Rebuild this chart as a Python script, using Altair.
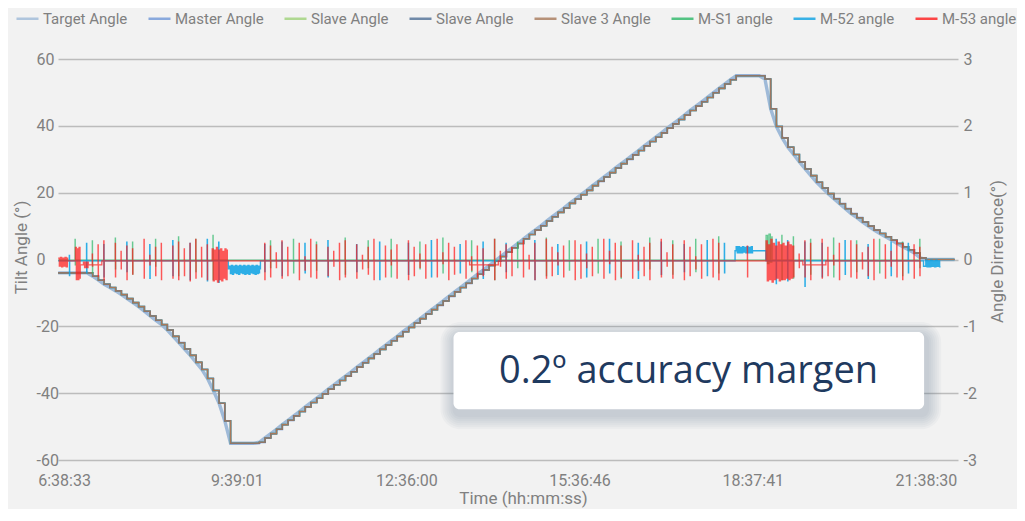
import altair as alt
import pandas as pd

# ---------------- axis values ----------------
TIME_LABELS = ["6:38:33", "9:39:01", "12:36:00", "15:36:46", "18:37:41", "21:38:30"]
X_DOMAIN = [6.537, 22.2]
TILT_TICKS = [-60, -40, -20, 0, 20, 40, 60]
DIFF_TICKS = [-3, -2, -1, 0, 1, 2, 3]

SERIES = ["Target Angle", "Master Angle", "Slave Angle", "Slave Angle ",
          "Slave 3 Angle", "M-S1 angle", "M-52 angle", "M-53 angle"]
COLORS = ["#9fbad8", "#6f98d8", "#9fd27a", "#4f6f96",
          "#a8795a", "#2cb868", "#0aa2e4", "#ff1a1a"]

# ---------------- tilt angle (deg), one reading every 0.1 h ----------------
T0 = 6.54
STEP = 0.1
TILT = [
    -4, -4, -4, -4, -4, -4, -5.0, -6.2, -7.4, -8.4, -9.4, -10.5, -11.7, -12.9, -14.1, -15.5, -16.9, -18.2, -19.5, -21.1,
    -23.0, -24.9, -26.8, -28.7, -30.8, -32.9, -35.6, -39.2, -43.0, -48.3, -55, -55, -55, -55, -55, -54.7, -53.4, -52.1, -50.8, -49.4,
    -48.1, -46.8, -45.5, -44.1, -42.8, -41.5, -40.2, -38.8, -37.5, -36.2, -34.9, -33.6, -32.2, -30.9, -29.6, -28.3, -26.9, -25.6, -24.3, -23.0,
    -21.6, -20.3, -19.0, -17.7, -16.3, -15.0, -13.7, -12.4, -11.0, -9.7, -8.4, -7.1, -5.7, -4.4, -3.1, -1.8, -0.5, 0.9, 2.2, 3.5,
    4.8, 6.2, 7.5, 8.8, 10.1, 11.5, 12.8, 14.1, 15.4, 16.8, 18.1, 19.4, 20.7, 22.1, 23.4, 24.7, 26.0, 27.4, 28.7, 30.0,
    31.3, 32.6, 34.0, 35.3, 36.6, 37.9, 39.3, 40.6, 41.9, 43.2, 44.6, 45.9, 47.2, 48.5, 49.9, 51.2, 52.5, 53.8, 55, 55,
    55, 55, 55, 54, 45.1, 39.8, 36.4, 33.6, 31.4, 29.2, 27.1, 25.1, 23.1, 21.4, 19.7, 18.2, 16.7, 15.2, 13.7, 12.5,
    11.2, 10.0, 8.8, 7.8, 6.8, 5.8, 4.8, 3.8, 2.9, 1.9, 0.5, 0, 0, 0, 0, 0, 0,
]

# ---------------- angle differences (hundredths of a degree) ----------------
# M-53: spike top / bottom at each 0.1 h step
M53_UP = [
    0, 0, 0, 15, 0, 20, 8, 22, 28, 0, 24, 12, 20, 16, 0, 30, 6, 18, 24, 0,
    20, 26, 16, 24, 30, 18, 22, 0, 0, 0, 0, 0, 0, 0, 0, 0, 24, 20, 10, 28,
    18, 0, 24, 4, 30, 22, 0, 18, 12, 24, 28, 0, 22, 6, 18, 30, 0, 20, 14, 22,
    0, 28, 18, 8, 22, 0, 30, 10, 24, 18, 0, 28, 4, 20, 16, 0, 30, 12, 22, 18,
    0, 28, 6, 24, 0, 30, 18, 10, 20, 0, 28, 22, 8, 18, 0, 30, 12, 24, 20, 0,
    28, 6, 18, 24, 0, 30, 10, 22, 0, 28, 18, 4, 22, 0, 30, 24, 0, 0, 0, 0,
    20, 0, 0, 0, 0, 0, 0, 0, 22, 8, 28, 24, 0, 30, 18, 6, 24, 0, 28, 22,
    10, 18, 30, 0, 22, 12, 28, 24, 0, 22, 18, 0, 0, 0, 0, 0, 0,
]
M53_DN = [
    0, 0, 0, -22, 0, -28, -10, -25, -30, 0, -26, -14, -30, -22, 0, -28, -8, -24, -30, 0,
    -28, -30, -24, -32, -28, -26, -30, 0, 0, 0, 0, 0, 0, 0, 0, 0, -30, -26, -12, -28,
    -24, 0, -30, -16, -26, -28, 0, -24, -10, -30, -26, 0, -28, -14, -22, -30, 0, -26, -8, -28,
    0, -30, -24, -12, -28, 0, -26, -6, -30, -22, 0, -28, -16, -26, -24, 0, -30, -10, -28, -24,
    0, -26, -14, -30, 0, -28, -24, -8, -26, 0, -30, -28, -12, -24, 0, -28, -6, -30, -26, 0,
    -28, -16, -24, -30, 0, -26, -10, -28, 0, -30, -24, -14, -28, 0, -26, -30, 0, 0, 0, 0,
    -26, 0, 0, 0, 0, 0, 0, 0, -28, -12, -26, -30, 0, -28, -24, -8, -30, 0, -26, -28,
    -14, -24, -30, 0, -28, -10, -26, -30, 0, -28, -24, 0, 0, 0, 0, 0, 0,
]
M53_BASE = [(6.54, -2), (6.90, -8), (7.30, -2), (13.70, -8), (14.20, -2), (19.50, -8), (19.90, -2)]
M53_BURSTS = [
    (6.54, 6.70, [2, -10, 3, -11, 2, -10, 3, -11, 2]),
    (6.84, 6.92, [18, -30, 16, -30, 18, -28]),
    (6.98, 7.06, [-4, -12, -4, -12, -4]),
    (9.22, 9.48, [16, -32, 14, -30, 18, -34, 14, -30, 16, -32, 12, -28, 16, -30, 14]),
    (18.86, 19.34, [28, -32, 22, -30, 30, -34, 24, -30, 20, -28, 26, -32,
                    22, -30, 24, -30, 20, -28, 26, -30, 22, -28, 20, -26]),
]

# M-S1: (step index, spike top, spike bottom)
MS1_SPIKES = [
    (3, 30, -8), (6, 28, -20), (10, 32, -14), (13, 26, -22), (17, 30, -10), (21, 34, -24),
    (24, 30, -18), (27, 36, -30), (37, 28, -12), (41, 30, -20), (45, 26, -16), (50, 32, -22),
    (54, 28, -12), (58, 30, -26), (63, 26, -14), (67, 32, -20), (72, 28, -18), (76, 30, -30),
    (80, 26, -12), (85, 32, -24), (89, 28, -16), (94, 30, -20), (98, 26, -28), (103, 32, -14),
    (107, 28, -22), (111, 30, -18), (115, 34, -20), (126, 36, -30), (128, 34, -28),
    (131, 30, -22), (135, 32, -26), (139, 28, -18), (143, 30, -20), (147, 26, -24), (150, 30, -12),
]
MS1_BASE = [(6.54, -1)]
MS1_BURSTS = [(18.86, 18.96, [36, -6, 38, -4, 34])]

# M-52: (step index, spike top, spike bottom)
M52_SPIKES = [
    (2, 6, -24), (5, 24, -20), (8, 22, -26), (12, 26, -18), (16, 22, -28), (20, 28, -24),
    (23, 24, -30), (26, 30, -32), (28, 26, -34), (36, 22, -18), (39, 26, -24), (43, 24, -20),
    (47, 28, -26), (52, 22, -18), (56, 26, -30), (61, 24, -22), (65, 28, -26), (70, 22, -20),
    (74, 26, -28), (78, 24, -18), (83, 28, -30), (87, 22, -22), (92, 26, -26), (96, 30, -20),
    (101, 24, -28), (105, 26, -22), (109, 22, -18), (113, 28, -24), (116, 24, -20),
    (125, 30, -36), (127, 28, -32), (130, 26, -40), (133, 24, -26), (137, 28, -22),
    (141, 22, -28), (145, 26, -24), (148, 24, -20),
]
M52_BASE = [(6.54, -2), (9.50, -14), (10.06, -2), (18.32, 13), (18.86, -2), (21.60, -10)]
M52_BURSTS = [
    (9.52, 10.04, [-10, -21, -9, -22, -10, -20, -9, -21, -10, -22, -9, -20, -10, -21, -9, -22,
                   -10, -21, -9, -22, -10, -20, -9, -21, -10, -22, -9, -21, -10, -20]),
    (18.34, 18.62, [19, 10, 19, 10, 18, 10, 19, 11, 18, 10, 19, 10, 18, 10, 19, 10]),
    (21.64, 21.88, [-1, -11, -2, -11, -1, -10, -2, -11, -1, -10, -2, -11]),
]

NOTE_TEXT = "0.2º accuracy margen"
NOTE_BOX = {"x1": 13.42, "x2": 21.61, "y1": -21.7, "y2": -44.8, "xc": 17.51, "yc": -33.8}


# ---------------- build tables ----------------
def hours(label):
    h, m, s = (int(p) for p in label.split(":"))
    return h + m / 60 + s / 3600


TICK_VALUES = [round(hours(l), 6) for l in TIME_LABELS]
label_expr = "''"
for v, l in reversed(list(zip(TICK_VALUES, TIME_LABELS))):
    label_expr = f"abs(datum.value - {v}) < 0.01 ? '{l}' : ({label_expr})"

main_rows = []
for name in SERIES[:5]:
    for k, v in enumerate(TILT):
        main_rows.append({"s": name, "t": round(T0 + STEP * k, 4), "v": v})
main_df = pd.DataFrame(main_rows)


def base_at(segs, t):
    b = segs[0][1]
    for s0, v in segs:
        if t >= s0 - 1e-9:
            b = v
    return b


def build(name, spikes, bursts, segs):
    pts = {}
    for s0, v in segs:
        pts[round(s0, 4)] = v
    for k, up, dn in spikes:
        t = T0 + STEP * k
        if any(a - 0.01 <= t <= e + 0.01 for a, e, _ in bursts):
            continue
        b = base_at(segs, t + 0.001)
        pts[round(t - 0.006, 4)] = up
        pts[round(t - 0.003, 4)] = dn
        pts[round(t, 4)] = b
    for a, e, vals in bursts:
        n = len(vals)
        for i, v in enumerate(vals):
            pts[round(a + (e - a) * i / (n - 1), 4)] = v
        pts[round(e + 0.004, 4)] = base_at(segs, e + 0.004)
    return [{"s": name, "t": t, "v": v / 100} for t, v in sorted(pts.items())]


m53_spikes = [(k, u, d) for k, (u, d) in enumerate(zip(M53_UP, M53_DN)) if u or d]
diff_rows = (build("M-S1 angle", MS1_SPIKES, MS1_BURSTS, MS1_BASE)
             + build("M-52 angle", M52_SPIKES, M52_BURSTS, M52_BASE)
             + build("M-53 angle", m53_spikes, M53_BURSTS, M53_BASE))
diff_df = pd.DataFrame(diff_rows)
note_df = pd.DataFrame([NOTE_BOX])

# ---------------- encodings ----------------
FONT = "Roboto"
GRAY = "#808080"

x_scale = alt.Scale(domain=X_DOMAIN, nice=False, zero=False)
x_axis = alt.Axis(values=TICK_VALUES, labelExpr=label_expr, title="Time (hh:mm:ss)",
                  labelFlush=False, grid=False, domain=False, ticks=False,
                  labelPadding=12, titleX=465, titleY=38, titleAlign="center",
                  titleBaseline="middle")
x_enc = alt.X("t:Q", scale=x_scale, axis=x_axis)
x_plain = alt.X("t:Q", scale=x_scale)

left_scale = alt.Scale(domain=[-60, 60], nice=False, zero=False)
left_axis = alt.Axis(orient="left", values=TILT_TICKS, labelExpr="toString(datum.value)",
                     grid=True, gridColor="#bcbcbc",
                     gridWidth=1.3, domain=False, ticks=False, labelAlign="left",
                     labelPadding=22, labelBaseline="middle", title="Tilt Angle (°)",
                     titleX=-37, titleY=188, titleAngle=270, titleAlign="center",
                     titleBaseline="middle")

right_scale = alt.Scale(domain=[-3, 3], nice=False, zero=False)
right_axis = alt.Axis(orient="right", values=DIFF_TICKS, labelExpr="toString(datum.value)",
                      grid=False, domain=False,
                      ticks=False, labelPadding=5, labelBaseline="middle",
                      title="Angle Dirrerence(°)", titleX=39, titleY=192, titleAngle=270,
                      titleAlign="center", titleBaseline="middle")

legend = alt.Legend(title=None, orient="none", legendX=-43, legendY=-53,
                    direction="horizontal", symbolType="stroke", symbolSize=484,
                    symbolStrokeWidth=2.5, symbolOpacity=0.8, labelFontSize=15,
                    labelFont=FONT, labelColor=GRAY, columnPadding=15, labelOffset=3)
color = alt.Color("s:N", scale=alt.Scale(domain=SERIES, range=COLORS), legend=legend)


def main_line(name, interp, width, first=False):
    return (alt.Chart(main_df)
            .transform_filter(alt.datum.s == name)
            .mark_line(interpolate=interp, strokeWidth=width)
            .encode(x=x_enc if first else x_plain,
                    y=alt.Y("v:Q", scale=left_scale, axis=left_axis),
                    color=color))


main_layers = [
    main_line("Target Angle", "linear", 3.4, first=True),
    main_line("Master Angle", "step-after", 1.8),
    main_line("Slave Angle", "step-after", 1.6),
    main_line("Slave Angle ", "step-after", 1.6),
    main_line("Slave 3 Angle", "step-after", 1.1),
]

# annotation box with a soft shadow
note_x = alt.X("x1:Q", scale=x_scale)
note_x2 = alt.X2("x2:Q")
note_y = alt.Y("y1:Q", scale=left_scale, axis=left_axis)
note_y2 = alt.Y2("y2:Q")
shadow_layers = []
for i in range(1, 8):
    shadow_layers.append(
        alt.Chart(note_df).mark_rect(
            color="#5b6c88", opacity=0.045, cornerRadius=6 + 2 * i,
            xOffset=-2 * i + 1, x2Offset=2 * i + 3, yOffset=-2 * i + 4, y2Offset=2 * i + 6,
        ).encode(x=note_x, x2=note_x2, y=note_y, y2=note_y2)
    )
box = alt.Chart(note_df).mark_rect(color="white", cornerRadius=6).encode(
    x=note_x, x2=note_x2, y=note_y, y2=note_y2)
text = alt.Chart(note_df).mark_text(
    text=NOTE_TEXT, font="Open Sans", fontSize=38, color="#1f3a5f",
    align="center", baseline="middle",
).encode(x=alt.X("xc:Q", scale=x_scale),
         y=alt.Y("yc:Q", scale=left_scale, axis=left_axis))

left_group = alt.layer(*main_layers, *shadow_layers, box, text)


def diff_line(name, width=1.3, opacity=0.72):
    return (alt.Chart(diff_df)
            .transform_filter(alt.datum.s == name)
            .mark_line(interpolate="step-after", strokeWidth=width, opacity=opacity)
            .encode(x=x_plain, y=alt.Y("v:Q", scale=right_scale, axis=right_axis),
                    color=color))


right_group = alt.layer(diff_line("M-S1 angle", 1.3, 0.7), diff_line("M-52 angle", 1.4, 0.85),
                        diff_line("M-53 angle", 1.3, 0.72))

chart = (
    alt.layer(left_group, right_group)
    .resolve_scale(y="independent")
    .properties(width=900, height=401,
                autosize=alt.AutoSizeParams(type="none"),
                padding={"left": 50, "top": 51, "right": 59, "bottom": 49},
                background="#f2f2f2")
    .configure_view(strokeWidth=0)
    .configure_axis(labelFont=FONT, titleFont=FONT, labelColor=GRAY, titleColor=GRAY,
                    labelFontSize=16, titleFontSize=17, titleFontWeight="normal")
)

chart.save("out.html", embed_options={"renderer": "svg", "actions": False})
